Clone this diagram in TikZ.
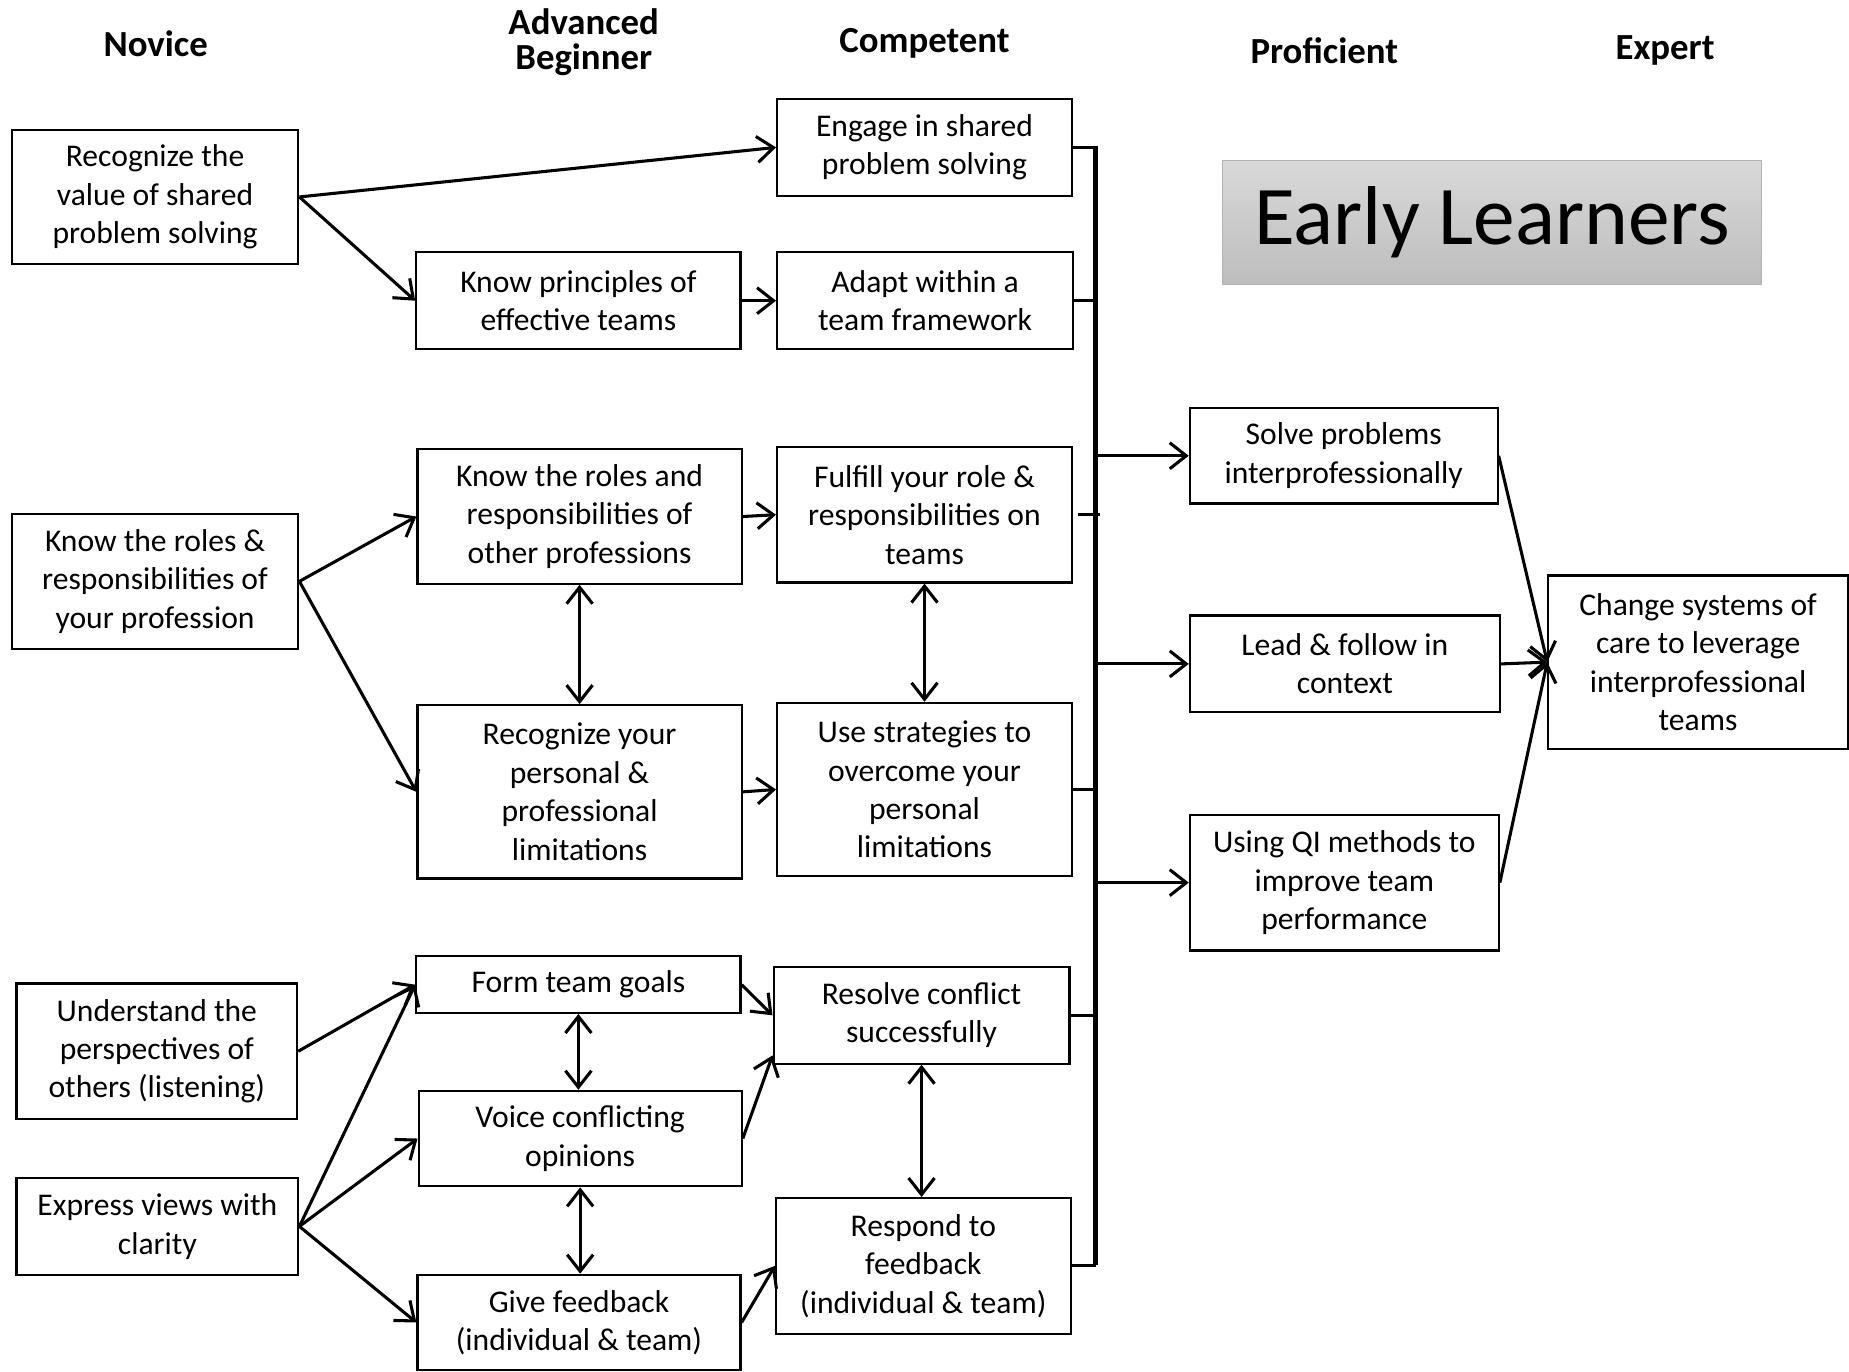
\documentclass[tikz,border=0pt]{standalone}
\usepackage{fontspec}
\setmainfont{Carlito}
\usetikzlibrary{arrows.meta}

\tikzset{
  stage/.style={font=\fontsize{15.6}{15}\selectfont\bfseries, align=center},
  goal/.style={draw, line width=0.9pt, align=center, inner sep=2pt,
    font=\fontsize{13.4}{16.3}\selectfont},
  link/.style={-{Straight Barb[length=7pt,width=11pt]}, line width=1.3pt},
  both/.style={{Straight Barb[length=7pt,width=11pt]}-{Straight Barb[length=7pt,width=11pt]}, line width=1.3pt},
  tie/.style={line width=1.2pt},
}

\begin{document}
\begin{tikzpicture}[x=0.5pt, y=-0.5pt]
  \useasboundingbox (0,0) rectangle (1568,1163);

  % stage headings
  \node[stage] (novice) at (132,37) {Novice};
  \node[stage] (advbeg) at (495,36) {Advanced\\Beginner};
  \node[stage] (comp) at (784,37) {Competent};
  \node[stage] (prof) at (1123,43) {Proficient};
  \node[stage] (expert) at (1412,43) {Expert};

  \node[draw=black!30, top color=black!15, bottom color=black!26,
    minimum width=228.5pt, minimum height=52.5pt,
    font=\fontsize{35.4}{40}\selectfont] (early) at (1265.5,188.5) {Early Learners};

  % novice
  \node[goal, minimum width=121.5pt, minimum height=57pt] (n1) at (131.5,167) {Recognize the\\value of shared\\problem solving};
  \node[goal, minimum width=121.5pt, minimum height=57pt] (n2) at (131.5,493) {Know the roles \&\\responsibilities of\\your profession};
  \node[goal, minimum width=119pt, minimum height=57.5pt] (n3) at (133,891.5) {Understand the\\perspectives of\\others (listening)};
  \node[goal, minimum width=119.5pt, minimum height=41pt] (n4) at (133.5,1040) {Express views with\\clarity};

  % advanced beginner
  \node[goal, minimum width=137.5pt, minimum height=41pt] (a1) at (490.5,255) {Know principles of\\effective teams};
  \node[goal, minimum width=137.5pt, minimum height=57pt] (a2) at (491.5,438) {Know the roles and\\responsibilities of\\other professions};
  \node[goal, minimum width=137.5pt, minimum height=73.5pt] (a3) at (491.5,671.5) {Recognize your\\personal \&\\professional\\limitations};
  \node[goal, minimum width=137.5pt, minimum height=24pt] (a4) at (490.5,835) {Form team goals};
  \node[goal, minimum width=137pt, minimum height=40.5pt] (a5) at (492,965.5) {Voice conflicting\\opinions};
  \node[goal, minimum width=137pt, minimum height=40.5pt] (a6) at (491,1121.5) {Give feedback\\(individual \& team)};

  % competent
  \node[goal, minimum width=125pt, minimum height=41pt] (c1) at (784,125) {Engage in shared\\problem solving};
  \node[goal, minimum width=125.5pt, minimum height=41pt] (c2) at (784.5,255) {Adapt within a\\team framework};
  \node[goal, minimum width=125pt, minimum height=57.5pt] (c3) at (784,436.5) {Fulfill your role \&\\responsibilities on\\teams};
  \node[goal, minimum width=125pt, minimum height=73.5pt] (c4) at (784,669.5) {Use strategies to\\overcome your\\personal\\limitations};
  \node[goal, minimum width=125.5pt, minimum height=41pt] (c5) at (781.5,861) {Resolve conflict\\successfully};
  \node[goal, minimum width=125pt, minimum height=57.5pt] (c6) at (783,1073.5) {Respond to\\feedback\\(individual \& team)};

  % proficient
  \node[goal, minimum width=130.5pt, minimum height=40.5pt] (p1) at (1139.5,386.5) {Solve problems\\interprofessionally};
  \node[goal, minimum width=131.5pt, minimum height=41pt] (p2) at (1140.5,563) {Lead \& follow in\\context};
  \node[goal, minimum width=131pt, minimum height=57.5pt] (p3) at (1140,748.5) {Using QI methods to\\improve team\\performance};

  % expert
  \node[goal, minimum width=127pt, minimum height=73.5pt] (e1) at (1440,561.5) {Change systems of\\care to leverage\\interprofessional\\teams};

  % bus
  \coordinate (bustop) at (929,124);
  \coordinate (busbot) at (929,1073);
  \draw[line width=1.8pt] (bustop) -- (busbot);
  \draw[tie] (c1.east) -- (c1.east -| bustop);
  \draw[tie] (c2.east) -- (c2.east -| bustop);
  \draw[tie] ([xshift=2pt]c3.east) -- ([xshift=2pt]c3.east -| bustop);
  \draw[tie] (c4.east) -- (c4.east -| bustop);
  \draw[tie] (c5.east) -- (c5.east -| bustop);
  \draw[tie] (c6.east) -- (c6.east -| bustop);
  \draw[link] (p1.west -| bustop) -- (p1.west);
  \draw[link] (p2.west -| bustop) -- (p2.west);
  \draw[link] (p3.west -| bustop) -- (p3.west);

  % arrows
  \draw[link] (n1.east) -- (c1.west);
  \draw[link] (n1.east) -- (a1.west);
  \draw[link] (a1.east) -- (c2.west);
  \draw[link] (n2.east) -- (a2.west);
  \draw[link] (n2.east) -- (a3.west);
  \draw[link] (a2.east) -- (c3.west);
  \draw[link] (a3.east) -- (c4.west);
  \draw[link] (n3.east) -- (a4.west);
  \draw[link] (n4.east) -- (a4.west);
  \draw[link] (n4.east) -- (a5.west);
  \draw[link] (n4.east) -- (a6.west);
  \draw[link] (a4.east) -- (c5.west);
  \draw[link] (a5.east) -- ([yshift=-17pt]c5.west);
  \draw[link] (a6.east) -- (c6.west);
  \draw[link] (p1.east) -- (e1.west);
  \draw[link] (p2.east) -- (e1.west);
  \draw[link] (p3.east) -- (e1.west);

  \draw[both] (a2.south) -- (a2.south |- a3.north);
  \draw[both] (c3.south) -- (c3.south |- c4.north);
  \draw[both] (a4.south) -- (a4.south |- a5.north);
  \draw[both] (a5.south) -- (a5.south |- a6.north);
  \draw[both] (c5.south) -- (c5.south |- c6.north);
\end{tikzpicture}
\end{document}
